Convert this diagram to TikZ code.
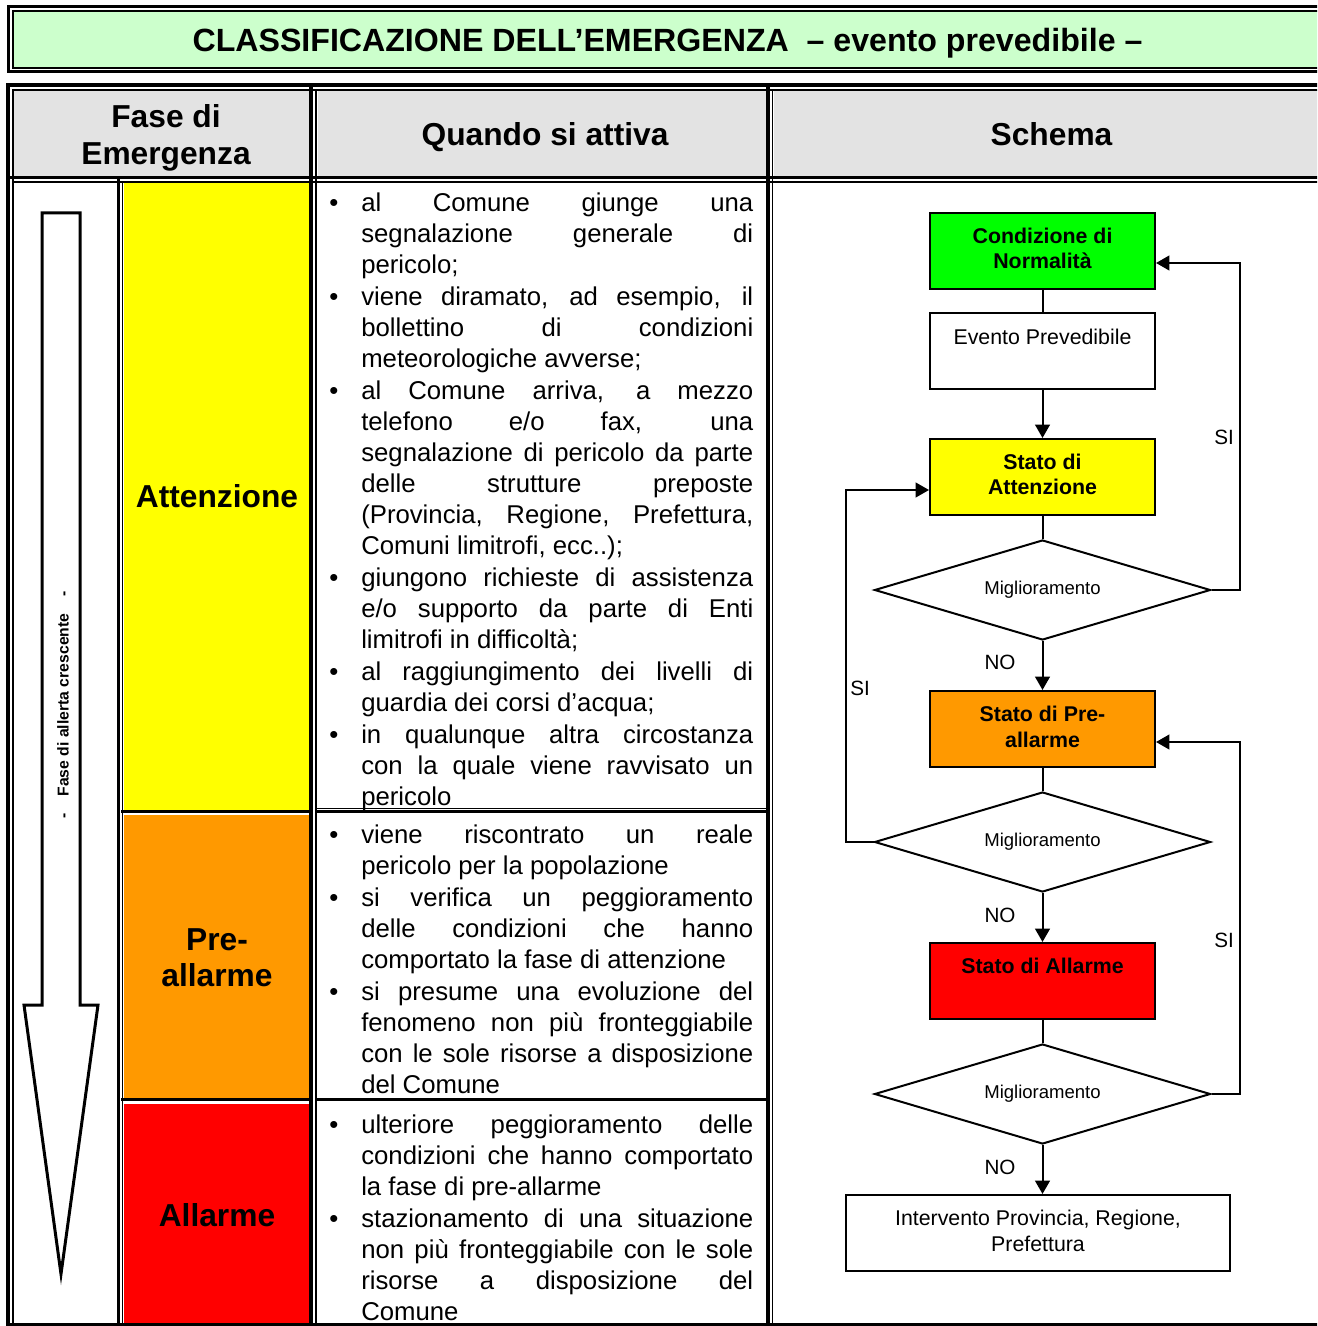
\documentclass[tikz,border=0pt]{standalone}
\usepackage{fontspec}
\setmainfont{Liberation Sans}
\usetikzlibrary{arrows.meta,shapes.geometric,calc}

\definecolor{titlegreen}{HTML}{CCFFCC}
\definecolor{headgray}{HTML}{E3E3E3}
\definecolor{attyellow}{HTML}{FFFF00}
\definecolor{preorange}{HTML}{FF9900}
\definecolor{allred}{HTML}{FF0000}
\definecolor{normgreen}{HTML}{00FF00}

% paragraph settings for the justified condition lists
\newcommand\bodysetup{\tolerance=10000\relax\hbadness=10000\relax
  \hyphenpenalty=10000\relax\exhyphenpenalty=10000\relax\parskip=0.75pt\relax}
% first bulleted paragraph of a cell (no preceding \par)
\newcommand\bfirst{\hangindent=24pt\hangafter=1\makebox[24pt][l]{\textbullet}\strut}
% further bulleted paragraphs with hanging indent
\newcommand\bitem{\par\noindent\hangindent=24pt\hangafter=1\makebox[24pt][l]{\textbullet}\strut}
% justified forced line break
\newcommand\jbr{\linebreak}

\tikzset{
  thickrule/.style={line width=2.4pt},
  thinrule/.style={line width=1.2pt},
  headtext/.style={font=\bfseries\fontsize{23.8}{27.75}\selectfont, align=center, inner sep=0pt},
  phasetext/.style={font=\bfseries\fontsize{23.8}{27}\selectfont, align=center, inner sep=0pt},
  bodytext/.style={anchor=north west, inner sep=0pt, text width=318pt, align=justify,
    font=\fontsize{19.3}{23.25}\selectfont},
  flow/.style={line width=1.5pt},
  arr/.style={-{Triangle[length=10pt,width=11pt]}},
  stepbox/.style={draw, line width=1.5pt, minimum width=168.75pt, minimum height=57pt, inner sep=0pt},
  boxlabel/.style={anchor=north, inner sep=0pt, align=center, font=\fontsize{16}{19}\selectfont},
  decision/.style={shape=diamond, draw, line width=1.5pt, shape aspect=3.36, minimum width=252pt,
    minimum height=75pt, inner sep=0pt, font=\fontsize{13.9}{16}\selectfont},
  answer/.style={inner sep=0pt, font=\fontsize{15.5}{18}\selectfont},
}

\begin{document}
\begin{tikzpicture}[x=0.75pt,y=-0.75pt]
\clip (0,0) rectangle (1317,1326);
\fill[white] (0,0) rectangle (1317,1326);

% ---- title bar ----
\fill[titlegreen] (12.8,11.2) rectangle (1340,67.8);
\draw[thickrule] (8.3,6.7) rectangle (1345,71.7);
\draw[thinrule] (12.8,11.2) rectangle (1345,67.8);
\node[font=\bfseries\fontsize{24.1}{27}\selectfont, inner sep=0pt] (title) at (667.5,43.5)
  {CLASSIFICAZIONE DELL’EMERGENZA\ \ – evento prevedibile –};

% ---- table cell fills ----
\fill[headgray] (14,91) rectangle (309.3,176);
\fill[headgray] (317.5,91) rectangle (766.5,176);
\fill[headgray] (774,91) rectangle (1340,176);
\fill[attyellow] (123.5,183.5) rectangle (309.3,810);
\fill[preorange] (123.5,815) rectangle (309.3,1098);
\fill[allred] (123.5,1103.5) rectangle (309.3,1340);

% ---- table rules ----
\draw[line width=3pt] (8.3,1340) -- (8.3,85.3) -- (1340,85.3);
\draw[thinrule] (12.8,1340) -- (12.8,90) -- (1340,90);
\draw[thickrule] (8.3,177.7) -- (1340,177.7);
\draw[thinrule] (12.8,182.3) -- (1340,182.3);
\draw[line width=3pt] (311.3,85.3) -- (311.3,1340);
\draw[thinrule] (316,90) -- (316,1340);
\draw[thickrule] (768,85.3) -- (768,1340);
\draw[thinrule] (772.5,90) -- (772.5,1340);
\draw[thickrule] (118.5,177.7) -- (118.5,1340);
\draw[thinrule] (122.5,182.3) -- (122.5,1340);
% row separators
\draw[thickrule] (121,811.8) -- (311,811.8);
\draw[thickrule] (121,1099.8) -- (311,1099.8);
\draw[thinrule] (316,808.3) -- (768,808.3);
\draw[thickrule] (316,811.8) -- (768,811.8);
\draw[thickrule] (316,1099.5) -- (768,1099.5);
\draw[line width=2pt] (8.3,1324.5) -- (1340,1324.5);

% ---- header texts ----
\node[headtext] (hfase) at (166,137.5) {Fase di\\Emergenza};
\node[headtext] (hquando) at (545,137) {Quando si attiva};
\node[headtext] (hschema) at (1051.5,134.5) {Schema};

% ---- increasing alert arrow ----
\draw[line width=2.25pt, fill=white] (42,213) -- (80,213) -- (80,1005) -- (98,1005)
  -- (61,1274) -- (24,1005) -- (42,1005) -- cycle;
\node[rotate=90, inner sep=0pt, font=\bfseries\fontsize{11.8}{14}\selectfont] (arrtxt) at (63,705)
  {-\hspace{13pt}Fase di allerta crescente\hspace{13pt}-};

% ---- phase names ----
\node[phasetext] (patt) at (217,496) {Attenzione};
\node[phasetext] (ppre) at (217,958) {Pre-\\allarme};
\node[phasetext] (pall) at (217,1215) {Allarme};

% ---- activation conditions ----
\node[bodytext] (tatt) at (329,189.3) {\bodysetup%
\bfirst al Comune giunge una\jbr segnalazione generale di\jbr pericolo;
\bitem viene diramato, ad esempio, il\jbr bollettino di condizioni\jbr meteorologiche avverse;
\bitem al Comune arriva, a mezzo\jbr telefono e/o fax, una\jbr segnalazione di pericolo da parte\jbr delle strutture preposte\jbr (Provincia, Regione, Prefettura,\jbr Comuni limitrofi, ecc..);
\bitem giungono richieste di assistenza\jbr e/o supporto da parte di Enti\jbr limitrofi in difficoltà;
\bitem al raggiungimento dei livelli di\jbr guardia dei corsi d’acqua;
\bitem in qualunque altra circostanza\jbr con la quale viene ravvisato un\jbr pericolo\par};

\node[bodytext] (tpre) at (329,821.3) {\bodysetup%
\bfirst viene riscontrato un reale\jbr pericolo per la popolazione
\bitem si verifica un peggioramento\jbr delle condizioni che hanno\jbr comportato la fase di attenzione
\bitem si presume una evoluzione del\jbr fenomeno non più fronteggiabile\jbr con le sole risorse a disposizione\jbr del Comune\par};

\node[bodytext] (tall) at (329,1111.3) {\bodysetup%
\bfirst ulteriore peggioramento delle\jbr condizioni che hanno comportato\jbr la fase di pre-allarme
\bitem stazionamento di una situazione\jbr non più fronteggiabile con le sole\jbr risorse a disposizione del\jbr Comune\par};

% ---- flow chart ----
\node[stepbox, fill=normgreen] (norm) at (1042.5,251) {};
\node[stepbox] (evento) at (1042.5,351) {};
\node[stepbox, fill=attyellow] (att) at (1042.5,477) {};
\node[decision] (d1) at (1042.5,590) {Miglioramento};
\node[stepbox, fill=preorange] (pre) at (1042.5,729) {};
\node[decision] (d2) at (1042.5,842) {Miglioramento};
\node[stepbox, fill=allred] (all) at (1042.5,981) {};
\node[decision] (d3) at (1042.5,1094) {Miglioramento};
\node[stepbox, minimum width=288pt] (interv) at (1038,1233) {};

\node[boxlabel, font=\bfseries\fontsize{16}{19}\selectfont] (lnorm) at ([yshift=-11.9pt]norm.north) {Condizione di\\Normalità};
\node[boxlabel] (levento) at ([yshift=-12.5pt]evento.north) {Evento Prevedibile};
\node[boxlabel, font=\bfseries\fontsize{16}{19}\selectfont] (latt) at ([yshift=-11.9pt]att.north) {Stato di\\Attenzione};
\node[boxlabel, font=\bfseries\fontsize{16}{20}\selectfont] (lpre) at ([yshift=-11.5pt]pre.north) {Stato di Pre-\\allarme};
\node[boxlabel, font=\bfseries\fontsize{16}{19}\selectfont] (lall) at ([yshift=-11.9pt]all.north) {Stato di Allarme};
\node[boxlabel] (linterv) at ([yshift=-12pt]interv.north) {Intervento Provincia, Regione,\\Prefettura};

\draw[flow] (norm.south) -- (evento.north);
\draw[flow, arr] (evento.south) -- (att.north);
\draw[flow] (att.south) -- (d1.north);
\draw[flow, arr] (d1.south) -- (pre.north);
\draw[flow] (pre.south) -- (d2.north);
\draw[flow, arr] (d2.south) -- (all.north);
\draw[flow] (all.south) -- (d3.north);
\draw[flow, arr] (d3.south) -- (d3.south |- interv.north);

\draw[flow, arr] (d1.east) -- ++(28,0) |- ([yshift=-9pt]norm.east);
\draw[flow, arr] (d2.west) -- ++(-28,0) |- ([yshift=-9.75pt]att.west);
\draw[flow, arr] (d3.east) -- ++(28,0) |- ([yshift=-9.75pt]pre.east);

\node[answer] (no1) at (1000,662) {NO};
\node[answer] (no2) at (1000,915) {NO};
\node[answer] (no3) at (1000,1167) {NO};
\node[answer] (si1) at (1224,437) {SI};
\node[answer] (si2) at (860,688) {SI};
\node[answer] (si3) at (1224,940) {SI};
\end{tikzpicture}
\end{document}
